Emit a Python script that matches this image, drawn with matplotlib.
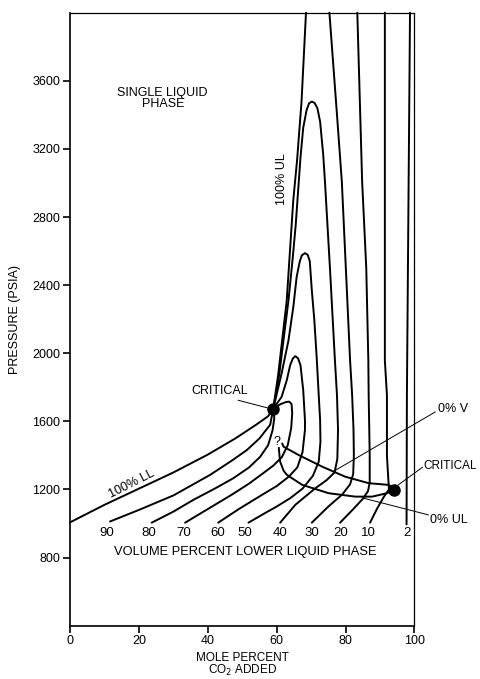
import matplotlib
matplotlib.use("Agg")
import matplotlib.pyplot as plt

plt.rcParams['font.family'] = ['Liberation Sans', 'DejaVu Sans']

# -------------------------
# Data (mole % CO2, pressure psia)
# -------------------------
crit1 = (59.0, 1675)
crit2 = (94.0, 1198)

ll100_x = [0, 10, 20, 30, 40, 48, 54, 57.5, 59.0]
ll100_p = [1007, 1110, 1205, 1300, 1405, 1500, 1580, 1630, 1675]

ul100_x = [59.0, 60.4, 61.8, 62.9, 64.8, 65.9, 67.2, 68.5]
ul100_p = [1675, 1870, 2115, 2308, 2897, 3131, 3477, 4000]

v90_x = [11.6, 20, 30, 40.6, 47, 51.3, 55, 58.1, 59.0]
v90_p = [1012, 1080, 1165, 1285, 1370, 1431, 1500, 1580, 1675]

v80_x = [23.7, 30, 35.8, 42, 47.4, 52, 55.2, 57.5, 58.8, 59.3, 59.0]
v80_p = [1005, 1070, 1139, 1205, 1266, 1330, 1392, 1460, 1548, 1620, 1675]

v70_x = [33.4, 40, 47, 52, 55.7, 59, 61.5, 63.2, 64.2, 64.5, 64.3, 63.6, 62.6, 61, 59.0]
v70_p = [1005, 1085, 1170, 1235, 1290, 1340, 1390, 1460, 1560, 1650, 1702, 1716, 1713, 1700, 1675]

v60_x = [43.0, 49, 55.7, 60, 63.5, 66, 67.5, 68.2, 68.2, 67.7, 66.9, 66.2, 65.4, 64.7,
         63.9, 62.9, 61.4, 59.0]
v60_p = [1005, 1085, 1168, 1220, 1275, 1330, 1420, 1550, 1607, 1782, 1930, 1970, 1983, 1970,
         1930, 1840, 1743, 1675]

v50_x = [51.8, 55.7, 60, 64, 67.5, 70.5, 72.2, 72.7, 72.6, 72.2, 71.6, 70.9, 70.2,
         69.6, 69.0, 68.2, 67.3, 66.7, 65.8, 64.8, 63.4, 61.4, 60.0, 59.0]
v50_p = [1005, 1051, 1100, 1150, 1205, 1280, 1363, 1480, 1607, 1753, 1977, 2200, 2367,
         2540, 2578, 2588, 2575, 2540, 2450, 2269, 2074, 1880, 1760, 1675]

v40_x = [61.0, 65.4, 71.2, 74.5, 76.8, 77.6, 77.8, 77.5, 76.9, 75.5, 74.0, 73.5,
         72.6, 71.8, 71.0, 70.2, 69.4, 68.7, 67.7, 66.9, 66.2, 65.5, 64.6, 63.4, 62.2,
         60.7, 59.0]
v40_p = [1005, 1110, 1207, 1255, 1300, 1380, 1550, 1753, 1958, 2484, 3010, 3166,
         3360, 3440, 3470, 3478, 3468, 3430, 3325, 3150, 2950, 2750, 2550, 2308, 2115,
         1870, 1675]

v30_x = [70.2, 75, 79, 81.3, 82.2, 82.4, 82.3, 81.9, 81.3, 80.3, 78.9, 77.5, 75.3]
v30_p = [1005, 1100, 1170, 1230, 1290, 1400, 1550, 1753, 1958, 2400, 3010, 3400, 4000]

v20_x = [78.4, 82, 85, 86.5, 87.0, 87.0, 86.7, 86.6, 86.0, 84.8, 83.4]
v20_p = [1005, 1080, 1145, 1190, 1240, 1400, 1753, 1958, 2500, 3010, 4000]

v10_x = [87.1, 89.2, 91.2, 92.6, 92.4, 92.0, 92.0, 91.4, 91.4, 91.4]
v10_p = [1005, 1090, 1160, 1200, 1260, 1400, 1753, 1958, 3010, 4000]

v2_x = [97.7, 97.8, 98.1, 98.7]
v2_p = [995, 1750, 2500, 4000]

ul0_x = [60.6, 60.8, 61.0, 62.0, 63.0, 67.4, 75.1, 82.8, 87.7, 92.0, 94.0]
ul0_p = [1445, 1400, 1363, 1310, 1285, 1227, 1178, 1158, 1158, 1178, 1198]

v0_x = [61.6, 62.0, 66.4, 73.2, 79.9, 86.7, 92.5, 93.5]
v0_p = [1470, 1451, 1402, 1334, 1275, 1237, 1227, 1215]

vol_labels = ['90', '80', '70', '60', '50', '40', '30', '20', '10', '2']
vol_label_x = [10.6, 22.7, 32.9, 42.8, 50.8, 61.0, 70.2, 78.6, 86.6, 97.7]

x_ticks = [0, 20, 40, 60, 80, 100]
y_ticks = [800, 1200, 1600, 2000, 2400, 2800, 3200, 3600]

# -------------------------
# Figure
# -------------------------
fig = plt.figure(figsize=(4.8, 6.79), dpi=100)
ax = fig.add_axes([0.146, 0.0785, 0.7175, 0.9028])
ax.set_xlim(0, 100)
ax.set_ylim(400, 4000)

lw = 1.4
curvas = [(ll100_x, ll100_p), (ul100_x, ul100_p), (v90_x, v90_p), (v80_x, v80_p),
          (v70_x, v70_p), (v60_x, v60_p), (v50_x, v50_p), (v40_x, v40_p),
          (v30_x, v30_p), (v20_x, v20_p), (v10_x, v10_p), (v2_x, v2_p),
          (ul0_x, ul0_p), (v0_x, v0_p)]
for cx, cp in curvas:
    ax.plot(cx, cp, color='black', lw=lw, solid_joinstyle='round',
            solid_capstyle='round', clip_on=False)

# puntos criticos
ax.plot([crit1[0], crit2[0]], [crit1[1], crit2[1]], 'o', color='black',
        markersize=8, zorder=5)

# Etiquetas y flechas
fs = 9
ax.text(43.5, 1776, 'CRITICAL', fontsize=fs, ha='center', va='center')
ax.plot([48.8, 58.1], [1724, 1675], color='black', lw=0.7)

ax.text(102.6, 1338, 'CRITICAL', fontsize=8.5, ha='left', va='center', clip_on=False)
ax.plot([102.3, 95.3], [1330, 1227], color='black', lw=0.7, clip_on=False)

ax.text(106.9, 1671, '0% V', fontsize=fs, ha='left', va='center')
ax.plot([106.0, 76.4], [1655, 1305], color='black', lw=0.7, clip_on=False)

ax.text(104.5, 1022, '0% UL', fontsize=fs, ha='left', va='center')
ax.plot([104.0, 85.0], [1051, 1150], color='black', lw=0.7, clip_on=False)

ax.text(60.1, 1480, '?', fontsize=fs, ha='center', va='center')
ax.text(26.9, 3497, 'SINGLE LIQUID\nPHASE', fontsize=fs, ha='center', va='center',
        linespacing=0.95)
ax.text(61.6, 3022, '100% UL', fontsize=fs, ha='center', va='center', rotation=90)
ax.text(18.0, 1233, '100% LL', fontsize=fs, ha='center', va='center', rotation=27)

for lab, lx in zip(vol_labels, vol_label_x):
    ax.text(lx, 944, lab, fontsize=fs + 0.5, ha='center', va='center')
ax.text(51.0, 835, 'VOLUME PERCENT LOWER LIQUID PHASE', fontsize=fs + 0.3,
        ha='center', va='center')

# Ejes
ax.set_xticks(x_ticks)
ax.set_yticks(y_ticks)
ax.tick_params(direction='out', length=5, width=1.2, labelsize=9, pad=2)
for s in ax.spines.values():
    s.set_linewidth(1.2)
ax.spines['top'].set_linewidth(0.9)
ax.spines['right'].set_linewidth(0.9)

ax.set_ylabel('PRESSURE (PSIA)', fontsize=9, labelpad=8)
ax.set_xlabel('MOLE PERCENT\nCO$_2$ ADDED', fontsize=8.5, labelpad=3, linespacing=0.95)

fig.savefig('out.png', dpi=100)
